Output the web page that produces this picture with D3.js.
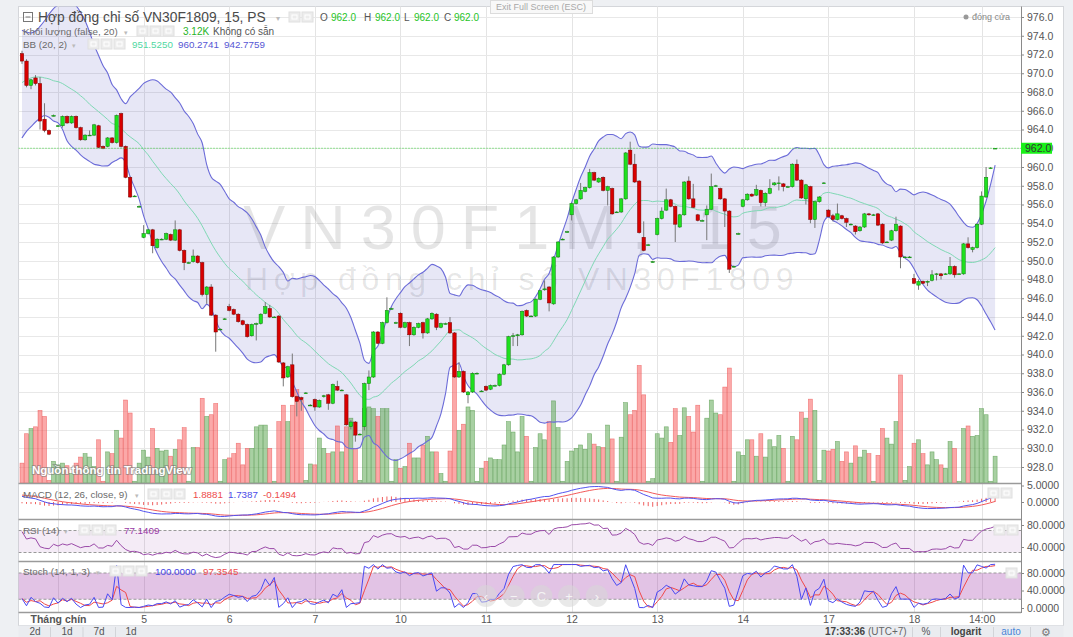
<!DOCTYPE html>
<html>
<head>
<meta charset="utf-8">
<title>VN30F1809, 15</title>
<script src="https://cdn.jsdelivr.net/npm/d3@7"></script>
<style>
  body { margin: 0; background: #eef0f3; }
  svg { display: block; }
</style>
</head>
<body>
<svg id="svgChart"></svg>
<script>
// DATA /////////////////////////////////////////////////////////////////////////////////
// 15 minute bars, 31 Aug (tail) .. 18 Sep
var opens = [
    972.1, 971.3, 968.7, 969.5, 968.9, 965.1, 963.9, 965.5, 964.4, 964.4,
    965.4, 964.7, 965.4, 964.2, 962.9, 963.4, 963.4, 964.4, 962.2, 962.2,
    963.1, 962.6, 965.7, 962.2, 958.9, 956.9, 955.8, 952.5, 952.9, 953.3,
    951.4, 952.3, 952.3, 952.8, 952.2, 953.3, 951.1, 949.8, 949.9, 950.5,
    949.8, 946.4, 947.2, 944.2, 942.7, 943.8, 945.1, 944.8, 944.3, 943.6,
    943.2, 942.0, 943.3, 943.3, 944.4, 944.9, 944.0, 944.1, 939.1, 937.6,
    938.9, 935.5, 935.4, 935.9, 934.6, 935.2, 934.4, 935.5, 935.7, 934.8,
    936.6, 936.2, 935.7, 932.3, 932.8, 931.5, 932.3, 936.9, 937.6, 942.4,
    941.2, 943.4, 944.9, 943.4, 944.4, 942.9, 943.4, 942.1, 942.9, 943.4,
    942.3, 943.8, 944.3, 942.9, 943.3, 943.4, 942.3, 937.6, 938.2, 935.7,
    936.0, 938.0, 936.1, 936.6, 936.3, 936.7, 936.7, 937.9, 938.9, 942.0,
    942.0, 942.1, 944.7, 944.1, 944.1, 945.9, 946.9, 947.2, 945.4, 950.4,
    952.3, 953.1, 954.9, 956.1, 956.6, 957.4, 957.8, 959.4, 958.4, 958.9,
    957.5, 957.7, 955.2, 955.2, 956.6, 961.8, 960.3, 958.5, 952.5, 951.7,
    949.9, 952.8, 954.5, 955.4, 956.5, 955.8, 953.6, 954.9, 958.5, 956.6,
    954.9, 954.3, 954.9, 955.5, 958.0, 957.7, 956.6, 955.3, 949.4, 952.9,
    955.8, 956.5, 957.1, 957.0, 957.5, 956.2, 957.2, 958.1, 958.3, 958.2,
    957.9, 957.9, 960.3, 958.6, 956.6, 957.9, 954.4, 956.3, 958.3, 955.4,
    954.8, 954.4, 954.8, 954.5, 953.9, 953.7, 953.2, 953.6, 955.0, 954.9,
    955.0, 953.9, 952.0, 952.2, 953.2, 953.7, 950.4, 950.4, 948.1, 947.4,
    947.8, 947.8, 947.9, 948.6, 948.6, 948.6, 948.6, 949.4, 948.6, 948.6,
    951.8, 951.2, 951.4, 953.9, 956.8, 959.9, 962.0
];
var highs = [
    972.4, 971.5, 969.4, 969.8, 969.6, 966.8, 964.0, 965.6, 964.5, 965.5,
    965.5, 965.5, 965.5, 964.3, 963.5, 963.9, 964.6, 964.5, 962.3, 963.2,
    963.2, 965.6, 965.8, 962.3, 959.0, 957.0, 955.9, 953.8, 953.4, 953.4,
    952.4, 952.4, 953.0, 952.9, 954.3, 953.4, 951.2, 949.9, 951.2, 950.6,
    949.9, 947.3, 947.5, 944.3, 942.8, 943.9, 945.4, 944.9, 944.4, 943.7,
    943.3, 943.3, 943.4, 944.4, 945.6, 945.3, 944.1, 944.2, 939.2, 938.8,
    940.1, 935.6, 935.5, 936.0, 934.7, 935.3, 935.2, 935.7, 935.8, 936.9,
    937.2, 936.3, 935.8, 933.0, 932.9, 931.6, 937.0, 938.3, 942.5, 942.5,
    943.5, 946.1, 945.0, 943.5, 944.5, 943.5, 943.5, 943.0, 943.4, 943.5,
    943.9, 944.5, 944.4, 943.4, 943.4, 944.0, 942.4, 939.2, 938.3, 936.1,
    938.1, 938.1, 936.2, 936.7, 936.8, 936.8, 938.0, 939.0, 942.0, 942.3,
    942.2, 944.7, 944.8, 944.2, 946.0, 946.9, 947.9, 947.3, 950.5, 952.1,
    952.4, 953.2, 956.2, 956.6, 958.3, 957.9, 959.8, 959.5, 958.9, 959.0,
    958.0, 957.8, 955.3, 956.7, 961.6, 962.7, 961.4, 958.6, 954.2, 951.8,
    950.0, 954.6, 955.7, 957.7, 956.6, 955.9, 955.0, 958.5, 959.0, 958.2,
    955.0, 954.4, 955.9, 959.3, 958.1, 957.8, 956.7, 955.4, 949.5, 953.0,
    956.6, 957.2, 957.2, 958.1, 957.6, 957.3, 958.7, 958.4, 959.0, 958.3,
    958.0, 960.4, 960.8, 958.7, 958.2, 958.0, 956.4, 956.9, 958.4, 955.5,
    955.0, 956.1, 954.9, 954.6, 954.0, 953.8, 953.7, 955.1, 955.1, 955.0,
    955.1, 954.0, 952.1, 953.3, 954.7, 953.8, 950.5, 950.5, 948.6, 948.0,
    947.9, 947.9, 949.0, 948.7, 948.7, 948.7, 950.4, 949.5, 948.7, 951.9,
    952.5, 951.5, 954.0, 957.4, 960.0, 960.0, 962.0
];
var lows = [
    971.0, 968.5, 968.3, 968.7, 964.0, 963.7, 963.4, 965.4, 964.3, 964.2,
    964.6, 964.6, 964.1, 962.8, 962.8, 963.3, 963.3, 962.0, 961.9, 962.1,
    962.5, 962.5, 962.1, 958.8, 956.7, 956.8, 955.7, 952.4, 952.8, 950.8,
    951.3, 952.2, 952.2, 952.1, 952.1, 951.0, 949.0, 949.7, 949.8, 949.7,
    946.2, 945.4, 944.1, 940.3, 942.6, 943.7, 944.6, 944.2, 943.4, 943.1,
    941.8, 941.9, 941.5, 943.2, 944.3, 943.9, 943.9, 939.1, 936.6, 937.5,
    935.4, 933.4, 934.0, 935.8, 934.5, 934.0, 934.3, 935.4, 934.1, 934.7,
    936.1, 936.1, 932.4, 932.0, 930.7, 931.4, 931.9, 936.2, 937.5, 941.1,
    941.1, 943.3, 944.8, 943.3, 942.8, 942.8, 940.9, 942.0, 942.8, 941.7,
    942.2, 943.7, 942.6, 942.8, 943.2, 942.2, 937.5, 937.5, 935.9, 934.8,
    935.9, 937.9, 936.0, 936.1, 936.2, 936.6, 936.6, 937.8, 938.8, 940.9,
    940.9, 942.0, 944.0, 944.0, 944.0, 945.8, 946.8, 944.6, 945.3, 950.3,
    952.2, 953.0, 954.3, 956.0, 956.5, 957.3, 957.7, 958.5, 958.3, 957.4,
    955.9, 954.9, 955.1, 955.1, 956.5, 960.2, 958.3, 952.9, 951.0, 951.6,
    949.8, 952.7, 954.4, 955.3, 955.7, 952.0, 953.5, 954.8, 956.5, 955.6,
    954.2, 954.2, 952.2, 955.4, 957.9, 956.5, 953.6, 948.7, 949.3, 952.8,
    955.7, 956.4, 956.8, 956.9, 955.8, 955.8, 957.1, 958.0, 957.5, 957.4,
    957.8, 957.8, 958.5, 956.6, 956.0, 954.0, 953.5, 956.2, 958.2, 954.6,
    954.2, 954.3, 954.4, 953.6, 953.8, 952.8, 953.1, 953.5, 954.8, 954.8,
    953.7, 951.8, 951.9, 952.1, 953.1, 949.2, 950.3, 950.3, 947.5, 946.9,
    947.5, 947.3, 947.8, 947.9, 948.0, 948.5, 948.5, 948.2, 948.5, 948.5,
    951.3, 950.9, 951.3, 953.8, 956.7, 959.8, 962.0
];
var closes = [
    971.3, 968.7, 969.3, 968.9, 964.9, 963.9, 963.5, 965.5, 964.4, 965.4,
    964.7, 965.4, 964.2, 962.9, 963.4, 963.4, 964.5, 962.1, 962.0, 963.1,
    962.6, 965.5, 962.2, 958.9, 956.8, 956.9, 955.8, 952.9, 953.3, 951.6,
    952.3, 952.3, 952.9, 952.2, 953.3, 951.1, 949.8, 949.8, 950.5, 949.8,
    946.4, 947.2, 944.2, 942.4, 942.7, 943.8, 944.7, 944.3, 943.5, 943.2,
    941.9, 943.2, 943.3, 944.3, 945.1, 944.0, 944.0, 939.2, 937.5, 938.7,
    935.5, 935.0, 935.2, 935.9, 934.6, 934.4, 935.1, 935.6, 934.8, 936.8,
    936.2, 936.2, 932.5, 932.8, 931.4, 931.5, 936.9, 937.6, 942.4, 941.2,
    943.4, 944.7, 944.9, 943.4, 942.9, 943.4, 942.1, 942.9, 943.3, 942.3,
    943.8, 944.4, 942.9, 943.3, 943.3, 942.3, 937.6, 938.2, 936.0, 936.0,
    938.0, 938.0, 936.1, 936.2, 936.7, 936.7, 937.9, 938.9, 941.9, 942.0,
    942.1, 944.6, 944.1, 944.1, 945.9, 946.8, 947.0, 945.5, 950.4, 952.0,
    952.3, 953.1, 956.1, 956.5, 957.5, 957.8, 959.4, 958.6, 958.8, 957.5,
    957.9, 955.0, 955.2, 956.6, 961.5, 960.3, 958.4, 953.0, 951.1, 951.7,
    949.9, 954.5, 955.3, 956.5, 955.8, 953.9, 954.9, 958.4, 956.6, 955.7,
    954.3, 954.3, 955.5, 957.9, 958.0, 956.6, 955.3, 949.1, 949.4, 952.9,
    956.5, 957.1, 956.9, 957.6, 956.2, 957.2, 957.7, 958.3, 958.3, 957.9,
    957.9, 960.3, 958.6, 956.7, 958.1, 954.4, 956.3, 956.8, 958.3, 954.7,
    954.4, 955.0, 954.5, 954.1, 953.9, 953.1, 953.6, 955.0, 954.9, 954.9,
    953.8, 951.9, 952.0, 953.2, 953.9, 950.4, 950.4, 950.4, 947.6, 947.8,
    947.6, 947.8, 948.5, 948.6, 948.4, 948.6, 949.4, 948.5, 948.6, 951.8,
    951.4, 951.4, 953.9, 956.9, 958.9, 959.9, 962.0
];
// volume in thousand contracts
var volumes = [
    2.3, 5.7, 6.3, 6.5, 8.4, 7.7, 0.3, 2.5, 2.1, 2.3,
    2.0, 1.1, 2.3, 3.0, 3.4, 3.0, 1.9, 5.0, 0.2, 3.6,
    3.4, 6.1, 5.2, 9.6, 8.1, 0.2, 2.3, 3.8, 3.0, 6.3,
    4.0, 3.7, 3.8, 3.1, 3.9, 5.0, 6.4, 0.2, 4.1, 4.1,
    9.8, 7.7, 7.9, 9.2, 0.2, 2.7, 2.9, 3.4, 4.6, 2.1,
    4.0, 4.0, 6.5, 6.7, 6.7, 4.0, 0.2, 7.1, 9.0, 7.1,
    9.0, 10.8, 9.6, 0.3, 2.2, 2.1, 5.2, 4.0, 3.4, 3.6,
    6.6, 3.6, 6.5, 7.5, 4.0, 0.3, 8.6, 8.8, 8.6, 7.7,
    8.6, 8.6, 0.2, 2.7, 1.7, 1.9, 4.6, 2.9, 2.9, 4.4,
    5.4, 3.6, 3.6, 1.1, 0.2, 3.7, 13.6, 6.1, 6.8, 8.8,
    8.4, 0.2, 1.7, 2.5, 2.9, 2.7, 2.7, 4.4, 7.1, 5.9,
    3.6, 7.7, 5.4, 0.2, 4.1, 5.7, 5.0, 7.1, 9.5, 6.4,
    0.2, 2.5, 3.7, 4.0, 4.4, 3.9, 5.7, 4.5, 4.2, 4.1,
    6.7, 5.1, 0.2, 5.3, 9.3, 7.9, 8.4, 13.6, 10.2, 0.2,
    0.5, 5.7, 5.2, 6.5, 4.7, 8.6, 5.5, 8.7, 7.7, 5.9,
    9.0, 0.2, 7.5, 9.6, 8.1, 7.9, 11.1, 13.3, 0.2, 3.6,
    3.2, 5.0, 5.0, 3.1, 5.7, 3.0, 5.0, 4.2, 5.5, 4.0,
    0.2, 5.4, 5.0, 8.2, 7.5, 9.7, 8.4, 0.3, 3.8, 3.7,
    3.9, 4.8, 2.5, 3.6, 2.3, 4.3, 3.0, 3.8, 3.4, 0.2,
    3.2, 6.3, 5.2, 4.5, 7.1, 12.5, 0.3, 1.9, 4.6, 5.0,
    3.4, 2.1, 3.6, 2.7, 2.1, 1.7, 4.8, 4.0, 0.2, 6.3,
    6.6, 5.4, 5.5, 8.6, 7.9, 0.2, 3.1
];

// Bollinger values of the first 19 bars (their window reaches back before the chart)
var bbLeadBasis = [969.0, 969.3, 969.5, 969.6, 969.6, 969.5, 969.4, 969.2, 969.1, 968.9,
    968.6, 968.3, 968.0, 967.6, 967.2, 966.7, 966.3, 965.9, 965.5];
var bbLeadUpper = [974.6, 974.4, 974.3, 974.5, 975.0, 975.6, 976.3, 976.9, 977.3, 977.6,
    977.7, 977.6, 977.2, 976.5, 975.6, 974.4, 973.0, 971.9, 970.8];
var bbLeadLower = [963.1, 963.8, 964.3, 964.8, 965.2, 965.5, 965.3, 964.9, 964.7, 964.0,
    962.8, 962.2, 961.8, 961.3, 960.9, 960.6, 960.3, 960.2, 960.1];
// indicator state at the first bar: fast ema, slow ema, signal
var macdSeed = [970.9, 969.2, 2.1];
// rsi state at the first bar: average gain, average loss
var rsiSeed = [0.55, 0.26];

// axis labels
var priceTicks = d3.range(928, 977, 2);
var timeLabels = ['Tháng chín', '5', '6', '7', '10', '11', '12', '13', '14', '17', '18', '14:00'];
var timeLabelIndex = [8, 27, 46, 65, 84, 103, 122, 141, 160, 179, 198, 213];

// header readouts
var headerOHLC = ['O', '962.0', 'H', '962.0', 'L', '962.0', 'C', '962.0'];
var bbReadout = ['951.5250', '960.2741', '942.7759'];
var macdReadout = ['1.8881', '1.7387', '-0.1494'];
var rsiReadout = ['77.1409'];
var stochReadout = ['100.0000', '97.3545'];

// LAYOUT ///////////////////////////////////////////////////////////////////////////////

var FONT = '"Liberation Sans", "Noto Sans", Arial, sans-serif';
var CHART_WIDTH = 1073, CHART_HEIGHT = 637;
var PANE_LEFT = 18.5, PANE_RIGHT = 1021;
var MAIN_TOP = 6.5, MAIN_BOTTOM = 483;
var MACD_TOP = 484, MACD_BOTTOM = 519;
var RSI_TOP = 520, RSI_BOTTOM = 561;
var STOCH_TOP = 562, STOCH_BOTTOM = 612;
var TOOLBAR_TOP = 625.5;

var UP = '#1fe01f', UP_EDGE = '#0b7d0b', DOWN = '#d80000', DOWN_EDGE = '#7a0000';

var svg = d3.select('#svgChart')
    .attr('width', CHART_WIDTH)
    .attr('height', CHART_HEIGHT)
    .style('font-family', FONT);

// scales
var x = d3.scaleLinear().domain([0, closes.length - 1]).range([22, 995.1]);
var priceY = d3.scaleLinear().domain([928, 976]).range([467, 17]);
var volumeY = d3.scaleLinear().domain([0, 14]).range([483, 362]);
var macdY = d3.scaleLinear().domain([0, 5]).range([502, 485.5]);
var rsiY = d3.scaleLinear().domain([40, 80]).range([547, 525]);
var stochY = d3.scaleLinear().domain([0, 80]).range([608, 573]);

// INDICATORS ///////////////////////////////////////////////////////////////////////////

function calcBollinger() {
    var out = [];
    for (var i = 0; i < closes.length; i++) {
        if (i < bbLeadBasis.length) {
            out.push({ basis: bbLeadBasis[i], upper: bbLeadUpper[i], lower: bbLeadLower[i] });
            continue;
        }
        var win = closes.slice(i - 19, i + 1);
        var m = d3.mean(win);
        var sd = Math.sqrt(d3.mean(win, function (c) { return (c - m) * (c - m); }));
        out.push({ basis: m, upper: m + 2 * sd, lower: m - 2 * sd });
    }
    return out;
}

function calcMacd() {
    var fast = macdSeed[0], slow = macdSeed[1], signal = macdSeed[2];
    var out = [];
    closes.forEach(function (c, i) {
        if (i > 0) {
            fast = fast + (c - fast) * 2 / 13;
            slow = slow + (c - slow) * 2 / 27;
        }
        var macd = fast - slow;
        if (i > 0) { signal = signal + (macd - signal) * 2 / 10; }
        out.push({ macd: macd, signal: signal, hist: macd - signal });
    });
    return out;
}

function calcRsi() {
    var gain = rsiSeed[0], loss = rsiSeed[1];
    return closes.map(function (c, i) {
        if (i > 0) {
            var ch = c - closes[i - 1];
            gain = (gain * 13 + Math.max(ch, 0)) / 14;
            loss = (loss * 13 + Math.max(-ch, 0)) / 14;
        }
        return loss === 0 ? 100 : 100 - 100 / (1 + gain / loss);
    });
}

function calcStoch() {
    var ks = closes.map(function (c, i) {
        var from = Math.max(0, i - 13);
        var hh = d3.max(highs.slice(from, i + 1));
        var ll = d3.min(lows.slice(from, i + 1));
        return hh === ll ? 50 : 100 * (c - ll) / (hh - ll);
    });
    return ks.map(function (k, i) {
        return { k: k, d: d3.mean(ks.slice(Math.max(0, i - 2), i + 1)) };
    });
}

var bb = calcBollinger();
var macd = calcMacd();
var rsi = calcRsi();
var stoch = calcStoch();
var idx = d3.range(closes.length);

// FRAME ////////////////////////////////////////////////////////////////////////////////

svg.append('rect').attr('width', CHART_WIDTH).attr('height', CHART_HEIGHT).attr('fill', '#eef0f3');
svg.append('rect')
    .attr('x', 18.5).attr('y', 6.5).attr('width', 1045).attr('height', 619)
    .attr('fill', '#fff').attr('stroke', '#d4d6da');

var defs = svg.append('defs');
function addClip(id, y0, y1) {
    defs.append('clipPath').attr('id', id).append('rect')
        .attr('x', PANE_LEFT).attr('y', y0).attr('width', PANE_RIGHT - PANE_LEFT).attr('height', y1 - y0);
}
addClip('clipMain', MAIN_TOP, MAIN_BOTTOM);
addClip('clipMacd', MACD_TOP, MACD_BOTTOM);
addClip('clipRsi', RSI_TOP, RSI_BOTTOM);
addClip('clipStoch', STOCH_TOP, STOCH_BOTTOM);

// vertical day grid across all panes
svg.append('g').selectAll('line')
    .data(timeLabelIndex)
    .enter().append('line')
    .attr('x1', function (d) { return Math.round(x(d)) + 0.5; })
    .attr('x2', function (d) { return Math.round(x(d)) + 0.5; })
    .attr('y1', MAIN_TOP).attr('y2', STOCH_BOTTOM)
    .attr('stroke', '#e4e4e4');

// MAIN PANE ////////////////////////////////////////////////////////////////////////////

var main = svg.append('g').attr('clip-path', 'url(#clipMain)');

main.append('g').selectAll('line')
    .data(priceTicks)
    .enter().append('line')
    .attr('x1', PANE_LEFT).attr('x2', PANE_RIGHT)
    .attr('y1', function (d) { return Math.round(priceY(d)) + 0.5; })
    .attr('y2', function (d) { return Math.round(priceY(d)) + 0.5; })
    .attr('stroke', '#e8e8e8');

// watermark
main.append('text')
    .attr('x', 520).attr('y', 249)
    .attr('text-anchor', 'middle')
    .style('font-size', '63px').style('letter-spacing', '15px')
    .attr('fill', 'rgba(0,0,0,0.1)')
    .text('VN30F1M, 15');
main.append('text')
    .attr('x', 522).attr('y', 290)
    .attr('text-anchor', 'middle')
    .style('font-size', '32px').style('letter-spacing', '5.6px')
    .attr('fill', 'rgba(0,0,0,0.1)')
    .text('Hợp đồng chỉ số VN30F1809');

// bollinger band fill
main.append('path')
    .datum(idx)
    .attr('d', d3.area()
        .x(function (d) { return x(d); })
        .y0(function (d) { return priceY(bb[d].lower); })
        .y1(function (d) { return priceY(bb[d].upper); })
        .curve(d3.curveMonotoneX))
    .attr('fill', 'rgba(40,40,170,0.11)');

// volume bars
main.append('g').selectAll('rect')
    .data(idx)
    .enter().append('rect')
    .attr('x', function (d) { return x(d) - 2; })
    .attr('width', 4)
    .attr('y', function (d) { return volumeY(volumes[d]); })
    .attr('height', function (d) { return volumeY(0) - volumeY(volumes[d]); })
    .attr('fill', function (d) { return closes[d] >= opens[d] ? 'rgba(96,170,86,0.55)' : 'rgba(248,96,96,0.55)'; })
    .attr('stroke', function (d) { return closes[d] >= opens[d] ? 'rgba(80,150,70,0.7)' : 'rgba(235,80,80,0.7)'; })
    .attr('stroke-width', 0.6);

// bollinger lines
function bbLine(key) {
    return d3.line()
        .x(function (d) { return x(d); })
        .y(function (d) { return priceY(bb[d][key]); })
        .curve(d3.curveMonotoneX);
}
main.append('path').datum(idx).attr('d', bbLine('upper')).attr('fill', 'none').attr('stroke', '#6b6bd8').attr('stroke-width', 1.1);
main.append('path').datum(idx).attr('d', bbLine('lower')).attr('fill', 'none').attr('stroke', '#6b6bd8').attr('stroke-width', 1.1);
main.append('path').datum(idx).attr('d', bbLine('basis')).attr('fill', 'none').attr('stroke', '#7fd8b4').attr('stroke-width', 1);

// candles
var candle = main.append('g').selectAll('g')
    .data(idx)
    .enter().append('g');
candle.append('line')
    .attr('x1', function (d) { return x(d); })
    .attr('x2', function (d) { return x(d); })
    .attr('y1', function (d) { return priceY(highs[d]); })
    .attr('y2', function (d) { return priceY(lows[d]); })
    .attr('stroke', '#777');
candle.append('rect')
    .attr('x', function (d) { return x(d) - 1.7; })
    .attr('width', 3.4)
    .attr('y', function (d) { return priceY(Math.max(opens[d], closes[d])); })
    .attr('height', function (d) { return Math.max(0.8, Math.abs(priceY(opens[d]) - priceY(closes[d]))); })
    .attr('fill', function (d) { return closes[d] >= opens[d] ? UP : DOWN; })
    .attr('stroke', function (d) { return closes[d] >= opens[d] ? UP_EDGE : DOWN_EDGE; })
    .attr('stroke-width', 0.5);

// last price line
main.append('line')
    .attr('x1', PANE_LEFT).attr('x2', PANE_RIGHT)
    .attr('y1', priceY(closes[closes.length - 1])).attr('y2', priceY(closes[closes.length - 1]))
    .attr('stroke', '#37d437').attr('stroke-dasharray', '1,2');

// source note
main.append('text')
    .attr('x', 32).attr('y', 474)
    .style('font-size', '11.5px').style('font-weight', 'bold')
    .attr('fill', '#fff').attr('stroke', 'rgba(120,120,120,0.55)').attr('stroke-width', 2)
    .attr('paint-order', 'stroke')
    .text('Nguồn thông tin TradingView');

// MACD PANE ////////////////////////////////////////////////////////////////////////////

var macdG = svg.append('g').attr('clip-path', 'url(#clipMacd)');
macdG.append('g').selectAll('line')
    .data(idx)
    .enter().append('line')
    .attr('x1', function (d) { return x(d); })
    .attr('x2', function (d) { return x(d); })
    .attr('y1', macdY(0))
    .attr('y2', function (d) { return macdY(macd[d].hist); })
    .attr('stroke', '#f06060');
macdG.append('path').datum(idx)
    .attr('d', d3.line().x(function (d) { return x(d); }).y(function (d) { return macdY(macd[d].signal); }))
    .attr('fill', 'none').attr('stroke', '#f25a5a');
macdG.append('path').datum(idx)
    .attr('d', d3.line().x(function (d) { return x(d); }).y(function (d) { return macdY(macd[d].macd); }))
    .attr('fill', 'none').attr('stroke', '#5353ee');

// RSI PANE /////////////////////////////////////////////////////////////////////////////

var rsiG = svg.append('g').attr('clip-path', 'url(#clipRsi)');
rsiG.append('rect')
    .attr('x', PANE_LEFT).attr('width', PANE_RIGHT - PANE_LEFT)
    .attr('y', rsiY(70)).attr('height', rsiY(30) - rsiY(70))
    .attr('fill', 'rgba(150,60,170,0.1)');
[70, 30].forEach(function (v) {
    rsiG.append('line')
        .attr('x1', PANE_LEFT).attr('x2', PANE_RIGHT)
        .attr('y1', rsiY(v)).attr('y2', rsiY(v))
        .attr('stroke', '#999').attr('stroke-dasharray', '3,2');
});
rsiG.append('path').datum(idx)
    .attr('d', d3.line().x(function (d) { return x(d); }).y(function (d) { return rsiY(rsi[d]); }))
    .attr('fill', 'none').attr('stroke', '#9a4aa8');

// STOCH PANE ///////////////////////////////////////////////////////////////////////////

var stochG = svg.append('g').attr('clip-path', 'url(#clipStoch)');
stochG.append('rect')
    .attr('x', PANE_LEFT).attr('width', PANE_RIGHT - PANE_LEFT)
    .attr('y', stochY(80)).attr('height', stochY(20) - stochY(80))
    .attr('fill', 'rgba(150,40,160,0.28)');
[80, 20].forEach(function (v) {
    stochG.append('line')
        .attr('x1', PANE_LEFT).attr('x2', PANE_RIGHT)
        .attr('y1', stochY(v)).attr('y2', stochY(v))
        .attr('stroke', '#999').attr('stroke-dasharray', '3,2');
});
stochG.append('path').datum(idx)
    .attr('d', d3.line().x(function (d) { return x(d); }).y(function (d) { return stochY(stoch[d].d); }))
    .attr('fill', 'none').attr('stroke', '#f04848');
stochG.append('path').datum(idx)
    .attr('d', d3.line().x(function (d) { return x(d); }).y(function (d) { return stochY(stoch[d].k); }))
    .attr('fill', 'none').attr('stroke', '#4848f2');

// navigation buttons over the stoch pane
var navSymbols = ['‹', '−', 'C', '+', '›'];
var nav = svg.append('g').selectAll('g')
    .data(navSymbols)
    .enter().append('g')
    .attr('transform', function (d, i) { return 'translate(' + (486 + i * 27.7) + ',596)'; });
nav.append('circle').attr('r', 11).attr('fill', 'rgba(215,215,215,0.55)');
nav.append('text')
    .attr('text-anchor', 'middle').attr('dy', '0.35em')
    .style('font-size', '13px').attr('fill', '#f4f4f4')
    .text(function (d) { return d; });

// AXES /////////////////////////////////////////////////////////////////////////////////

// pane separators
[MAIN_BOTTOM + 0.5, MACD_BOTTOM + 0.5, RSI_BOTTOM + 0.5, STOCH_BOTTOM + 0.5].forEach(function (y) {
    svg.append('line')
        .attr('x1', PANE_LEFT).attr('x2', PANE_RIGHT)
        .attr('y1', y).attr('y2', y)
        .attr('stroke', '#9a9a9a').attr('stroke-width', 1.6);
});
svg.append('line')
    .attr('x1', PANE_RIGHT + 0.5).attr('x2', PANE_RIGHT + 0.5)
    .attr('y1', MAIN_TOP).attr('y2', STOCH_BOTTOM + 1)
    .attr('stroke', '#8a8a8a');

function styleAxis(g) {
    g.select('.domain').remove();
    g.selectAll('line').attr('stroke', '#888');
    g.selectAll('text').attr('fill', '#555').style('font-size', '10.5px').style('font-family', FONT);
}

svg.append('g')
    .attr('transform', 'translate(' + PANE_RIGHT + ',0)')
    .call(d3.axisRight(priceY).tickValues(priceTicks).tickFormat(d3.format('.1f')).tickSize(3).tickPadding(3))
    .call(styleAxis);
svg.append('g')
    .attr('transform', 'translate(' + PANE_RIGHT + ',0)')
    .call(d3.axisRight(macdY).tickValues([5, 0]).tickFormat(d3.format('.4f')).tickSize(3).tickPadding(3))
    .call(styleAxis);
svg.append('g')
    .attr('transform', 'translate(' + PANE_RIGHT + ',0)')
    .call(d3.axisRight(rsiY).tickValues([80, 40]).tickFormat(d3.format('.4f')).tickSize(3).tickPadding(3))
    .call(styleAxis);
svg.append('g')
    .attr('transform', 'translate(' + PANE_RIGHT + ',0)')
    .call(d3.axisRight(stochY).tickValues([80, 40, 0]).tickFormat(d3.format('.4f')).tickSize(3).tickPadding(3))
    .call(styleAxis);

// time axis
svg.append('g')
    .attr('transform', 'translate(0,' + STOCH_BOTTOM + ')')
    .call(d3.axisBottom(x).tickValues(timeLabelIndex)
        .tickFormat(function (d, i) { return timeLabels[i]; })
        .tickSize(0).tickPadding(4))
    .call(styleAxis)
    .selectAll('text')
    .style('font-weight', function (d, i) { return i === 0 ? 'bold' : 'normal'; });

// last price tag
var lastY = priceY(closes[closes.length - 1]);
svg.append('rect')
    .attr('x', PANE_RIGHT).attr('y', lastY - 5.5).attr('width', 31).attr('height', 11)
    .attr('fill', '#19f019');
svg.append('text')
    .attr('x', PANE_RIGHT + 4).attr('y', lastY).attr('dy', '0.35em')
    .style('font-size', '10.5px').attr('fill', '#333')
    .text(d3.format('.1f')(closes[closes.length - 1]));

// HEADER & LEGENDS /////////////////////////////////////////////////////////////////////

function iconBoxes(x0, y0, n) {
    for (var i = 0; i < n; i++) {
        svg.append('rect')
            .attr('x', x0 + i * 13).attr('y', y0).attr('width', 11).attr('height', 10)
            .attr('fill', '#ececec').attr('stroke', '#e0e0e0');
        svg.append('rect')
            .attr('x', x0 + i * 13 + 3).attr('y', y0 + 3).attr('width', 5).attr('height', 4)
            .attr('fill', 'none').attr('stroke', '#fff');
    }
}

function label(xp, yp, txt, size, color) {
    return svg.append('text')
        .attr('x', xp).attr('y', yp)
        .style('font-size', size + 'px')
        .attr('fill', color)
        .text(txt);
}

// collapse box
svg.append('rect').attr('x', 23.5).attr('y', 12.5).attr('width', 9).attr('height', 9).attr('fill', 'none').attr('stroke', '#777');
svg.append('line').attr('x1', 25.5).attr('x2', 30.5).attr('y1', 17).attr('y2', 17).attr('stroke', '#777');
label(38, 22, 'Hợp đồng chỉ số VN30F1809, 15, PS', 13.8, '#4a4a4a');
label(276, 21, '▾', 8, '#bbb');
iconBoxes(289, 12, 2);
var ohlcX = [320, 331, 364, 375, 404, 414, 444, 454];
headerOHLC.forEach(function (t, i) {
    label(ohlcX[i], 21, t, 10, i % 2 === 0 ? '#555' : '#27c427');
});

label(23, 35, 'Khối lượng (false, 20)', 9.8, '#6a6a6a');
label(124, 35, '▾', 7, '#bbb');
iconBoxes(137, 26, 3);
label(183, 35, '3.12K', 10, '#27b427');
label(213, 35, 'Không có sẵn', 10, '#555');

label(23, 48, 'BB (20, 2)', 9.8, '#6a6a6a');
label(72, 48, '▾', 7, '#bbb');
iconBoxes(88, 39, 3);
label(132, 48, bbReadout[0], 9.8, '#4fd89f');
label(178, 48, bbReadout[1], 9.8, '#5656d4');
label(224, 48, bbReadout[2], 9.8, '#5656d4');

label(23, 498, 'MACD (12, 26, close, 9)', 9.8, '#6a6a6a');
label(135, 498, '▾', 7, '#bbb');
iconBoxes(148, 489, 3);
label(193, 498, macdReadout[0], 9.8, '#ee4b4b');
label(228, 498, macdReadout[1], 9.8, '#4b4be8');
label(263, 498, macdReadout[2], 9.8, '#ee4b4b');

label(23, 534, 'RSI (14)', 9.8, '#6a6a6a');
label(64, 534, '▾', 7, '#bbb');
iconBoxes(79, 525, 3);
label(124, 534, rsiReadout[0], 9.8, '#9a3aa6');

label(23, 575, 'Stoch (14, 1, 3)', 9.8, '#6a6a6a');
label(96, 575, '▾', 7, '#bbb');
iconBoxes(110, 566, 3);
label(155, 575, stochReadout[0], 9.8, '#4646e6');
label(203, 575, stochReadout[1], 9.8, '#ee4b4b');

// pane buttons near the price scale
iconBoxes(988, 488, 2);
iconBoxes(994, 525, 2);
iconBoxes(1006, 568, 1);

// close legend
svg.append('circle').attr('cx', 966).attr('cy', 17).attr('r', 2.5).attr('fill', '#999');
label(972, 20, 'đóng cửa', 9, '#888');

// exit full screen tab
svg.append('rect')
    .attr('x', 490.5).attr('y', 0.5).attr('width', 102).attr('height', 13)
    .attr('fill', '#f8f8f8').attr('stroke', '#dcdcdc');
label(496, 10, 'Exit Full Screen (ESC)', 9, '#a8a8a8');

// BOTTOM TOOLBAR ///////////////////////////////////////////////////////////////////////

svg.append('rect')
    .attr('x', 18.5).attr('y', TOOLBAR_TOP).attr('width', 1045).attr('height', CHART_HEIGHT - TOOLBAR_TOP)
    .attr('fill', '#eaecf0');
var rangeButtons = ['2d', '1d', '7d', '1d'];
rangeButtons.forEach(function (t, i) {
    label(35 + i * 32, 635, t, 10, '#555').attr('text-anchor', 'middle');
    if (i < 3) {
        svg.append('line').attr('x1', 50.5 + i * 32.5).attr('x2', 50.5 + i * 32.5)
            .attr('y1', 627).attr('y2', 637).attr('stroke', '#d2d4d8');
    }
});
label(825, 635, '17:33:36', 10, '#444').style('font-weight', 'bold');
label(868, 635, '(UTC+7)', 10, '#666');
label(926, 635, '%', 10, '#555').attr('text-anchor', 'middle');
label(966, 635, 'logarit', 10, '#444').attr('text-anchor', 'middle').style('font-weight', 'bold');
label(1011, 635, 'auto', 10, '#4a86d8').attr('text-anchor', 'middle');
label(1046, 636, '⚙', 11, '#777').attr('text-anchor', 'middle');
[912.5, 940.5, 993.5, 1030.5].forEach(function (xp) {
    svg.append('line').attr('x1', xp).attr('x2', xp).attr('y1', 627).attr('y2', 637).attr('stroke', '#d2d4d8');
});
</script>
</body>
</html>
